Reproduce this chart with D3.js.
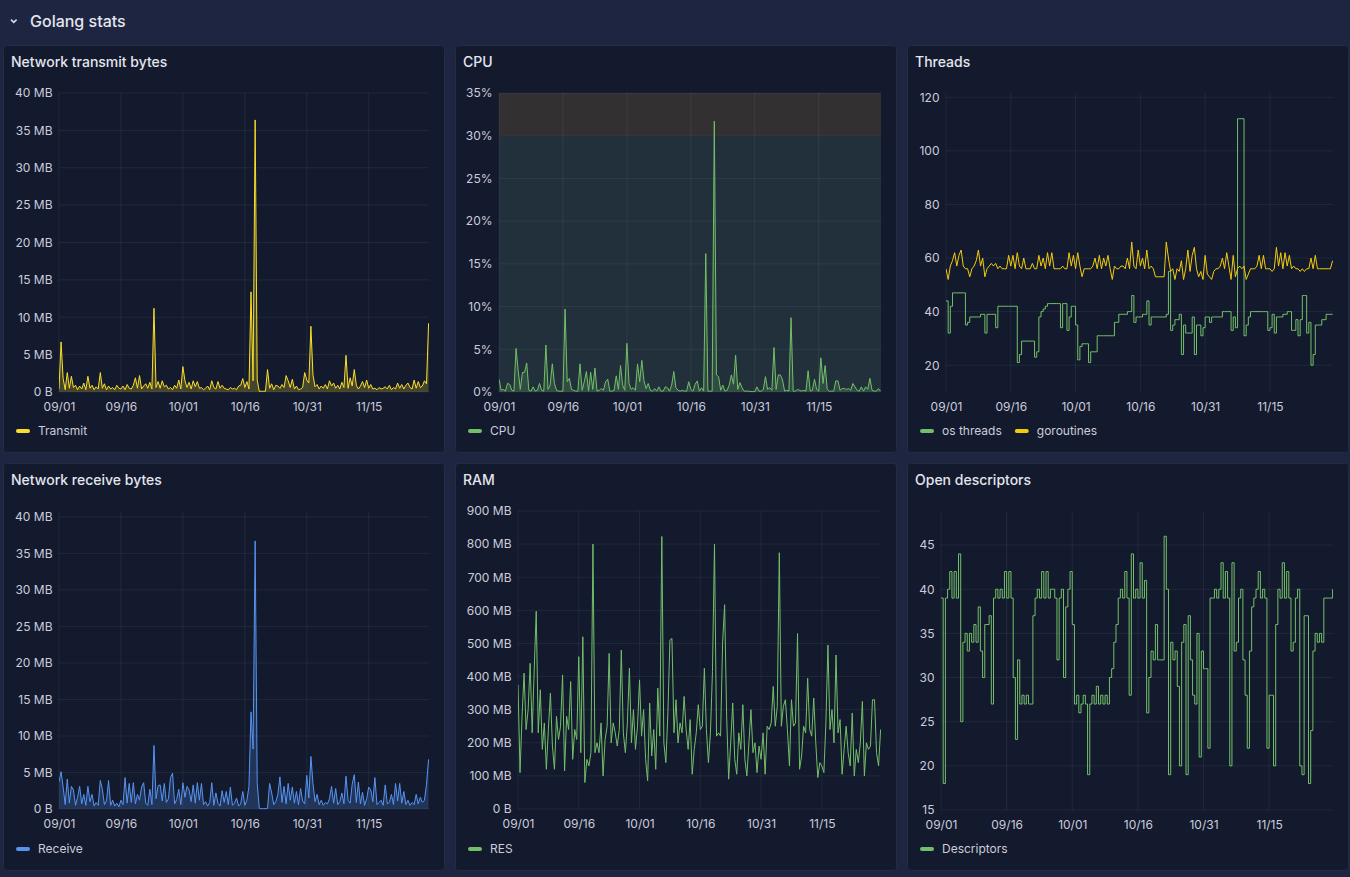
<!DOCTYPE html>
<html>
<head>
<meta charset="utf-8">
<script src="https://cdnjs.cloudflare.com/ajax/libs/d3/7.8.5/d3.min.js"></script>
<style>
  html, body { margin: 0; padding: 0; background: #1e2540; }
  body { width: 1350px; height: 877px; overflow: hidden; }
</style>
</head>
<body>
<div id="wrapper"></div>
<script>
// ---- data (one point every half day from 09/01) ----
const startDay = "2023/09/01"
const stepDays = 0.5
const spanDays = 89.6
const tickLabels = ["09/01", "09/16", "10/01", "10/16", "10/31", "11/15"]

const transmitMB = [
    0.4,6.7,1.8,0.3,2.6,0.5,2.1,0.6,0.9,0.3,
    0.8,0.4,1.2,0.3,2.1,0.5,0.9,0.3,0.7,0.4,
    2.6,0.5,1.1,0.3,0.8,0.4,0.6,0.3,0.9,0.5,
    0.4,0.8,0.3,1.0,0.5,0.4,0.9,1.9,0.5,2.2,
    0.4,0.8,1.1,0.5,1.3,0.4,11.2,0.6,1.4,0.5,
    1.5,0.7,0.9,0.4,0.6,0.3,0.9,0.5,1.6,0.4,
    3.4,1.5,0.6,1.3,0.4,1.5,0.7,1.4,0.5,0.6,
    0.3,0.5,0.8,0.3,1.5,0.6,0.4,1.4,0.5,0.9,
    0.5,0.4,0.3,0.6,0.4,0.5,0.3,0.8,0.9,1.8,
    0.6,1.4,0.4,13.4,1.5,36.4,1.6,0.1,0.1,0.1,
    0.1,3.0,0.5,1.1,0.3,0.9,0.8,0.5,1.0,0.6,
    2.2,1.5,0.6,1.7,0.4,0.8,0.3,0.4,0.6,2.6,
    1.6,1.2,8.8,2.3,0.7,1.0,0.4,0.8,0.5,1.0,
    0.4,1.5,0.8,1.2,0.5,0.9,0.4,1.3,0.6,4.9,
    0.5,1.9,0.8,3.0,0.9,0.4,0.8,1.4,0.6,1.6,
    0.5,1.0,0.4,0.5,0.3,0.6,0.4,0.5,0.7,0.4,
    0.9,0.3,0.6,0.4,1.2,0.5,1.0,0.4,0.9,1.2,
    0.6,0.4,1.6,0.5,1.4,0.6,0.8,1.5,1.1,9.2
]

const receiveMB = [
    3.7,5.1,3.0,0.6,4.1,0.8,3.1,2.6,0.5,1.6,
    3.1,0.7,2.0,0.5,3.1,1.0,2.0,0.4,0.9,0.5,
    3.9,2.7,0.6,1.1,3.9,0.5,1.2,0.4,0.8,0.3,
    1.2,0.6,4.3,0.8,3.5,0.9,3.6,0.7,2.0,1.2,
    3.0,3.6,0.8,0.5,2.7,0.6,8.7,1.4,3.2,3.3,
    1.1,3.5,0.9,1.4,4.3,4.9,0.7,1.3,2.7,0.6,
    3.6,1.6,3.1,2.6,1.0,3.3,0.8,3.6,1.2,3.5,
    0.6,1.0,0.4,0.9,3.6,0.5,2.2,0.8,0.4,2.5,
    0.9,2.4,0.6,3.0,0.5,0.8,1.5,0.4,0.7,2.4,
    0.5,1.2,3.1,13.3,8.2,36.7,3.5,0.1,0.05,0.05,
    0.05,0.1,3.5,2.2,0.6,1.0,2.0,4.4,0.9,3.1,
    0.7,3.5,1.2,3.0,0.8,2.4,0.6,2.8,1.1,0.7,
    4.6,1.5,7.2,3.5,1.0,2.0,0.6,1.2,0.5,0.9,
    0.7,1.4,3.1,0.8,2.8,0.6,1.0,2.2,0.7,4.5,
    1.2,0.8,3.4,4.7,0.9,3.7,0.7,2.3,0.5,1.4,
    3.0,2.6,1.0,4.3,0.6,0.9,1.2,0.5,3.3,0.7,
    0.9,2.0,0.6,3.5,1.1,3.5,0.8,2.4,0.6,1.2,
    0.5,0.9,0.6,2.0,0.7,1.6,0.9,1.2,3.4,6.8
]

const cpuPct = [
    1.5,0.2,0.3,0.1,1.0,0.9,0.2,0.1,5.1,2.5,
    0.3,2.3,2.3,3.4,0.2,0.1,0.6,0.1,0.2,1.0,
    0.2,0.1,5.5,0.3,0.8,3.3,1.0,0.2,0.1,0.1,
    0.1,9.7,1.2,1.6,0.3,0.2,0.1,0.1,3.3,0.2,
    1.2,2.4,0.1,2.3,0.3,2.8,0.1,0.2,0.4,0.2,
    1.2,1.5,0.1,0.1,0.2,1.9,0.3,3.1,0.8,0.2,
    5.7,1.0,0.3,0.5,0.2,3.3,1.2,3.7,1.3,0.4,
    1.0,0.2,0.1,0.4,0.1,0.6,0.1,0.1,0.6,0.5,
    0.1,0.8,2.4,0.5,0.2,0.1,0.2,0.1,0.1,1.2,
    0.3,0.1,0.9,1.3,0.1,0.5,0.1,16.2,0.1,0.1,
    0.1,31.7,2.0,1.8,0.2,0.8,0.1,0.2,0.8,2.0,
    0.9,4.3,0.3,1.1,0.5,0.1,0.1,0.1,0.05,0.05,
    0.05,0.6,0.1,0.1,0.3,1.8,0.3,0.5,0.2,5.2,
    0.3,2.0,2.0,1.4,0.1,0.2,0.1,8.7,0.1,0.1,
    0.3,0.2,0.1,0.2,0.1,2.5,0.1,0.2,1.5,0.3,
    0.1,4.0,1.0,3.1,0.3,0.1,0.1,0.1,1.3,1.3,
    0.2,0.4,0.4,0.3,0.4,0.2,1.0,0.6,0.2,0.1,
    0.6,0.1,0.6,0.3,1.6,0.2,0.1,0.1,0.4,0.1
]

const osThreads = [
    44,32,42,47,47,47,47,47,47,35,
    36,38,38,38,38,38,39,39,32,39,
    39,39,39,34,42,42,42,42,42,42,
    42,42,42,21,24,29,29,29,29,29,
    29,23,25,38,40,41,42,43,43,43,
    43,43,43,34,43,43,33,38,42,42,
    35,22,27,28,28,28,21,25,25,25,
    31,31,31,31,31,31,31,31,36,36,
    39,39,39,39,40,40,46,36,38,38,
    38,39,39,44,35,38,38,38,38,38,
    38,38,39,55,33,35,37,37,39,24,
    35,32,32,32,38,24,35,35,31,34,
    38,38,36,38,38,38,38,38,40,40,
    40,40,33,38,34,112,112,112,31,35,
    38,40,40,40,40,40,40,40,40,33,
    34,39,32,38,38,38,39,39,40,40,
    33,33,37,31,37,46,46,32,36,20,
    24,35,35,35,37,37,39,39,39,39
]

const goroutines = [
    56,52,57,59,62,57,61,63,57,56,
    56,53,56,57,59,63,57,60,53,56,
    57,58,57,58,56,57,56,56,56,61,
    57,61,56,62,57,56,60,56,56,56,
    58,56,56,61,57,60,56,62,57,62,
    56,56,56,56,57,56,56,62,57,61,
    56,62,57,53,56,56,56,56,57,60,
    56,61,56,60,57,61,56,52,57,56,
    56,57,57,56,60,56,66,57,56,63,
    57,60,56,63,56,57,56,53,53,53,
    53,53,66,60,55,56,52,56,55,59,
    52,56,63,55,61,64,56,53,55,52,
    61,54,53,52,55,56,56,57,60,56,
    62,57,52,61,53,56,57,56,57,52,
    54,56,56,56,57,61,56,61,56,56,
    56,55,56,64,57,62,56,62,57,61,
    56,57,56,56,55,56,55,56,56,60,
    56,61,56,56,56,56,56,56,56,59
]

const ramMB = [
    375,110,280,410,240,300,440,230,420,597,
    230,360,180,260,120,240,350,190,120,280,
    210,250,405,115,280,240,385,150,240,210,
    460,170,520,80,150,130,170,800,170,200,
    170,260,100,210,250,470,200,260,230,190,
    240,480,230,170,260,425,200,300,180,250,
    390,220,300,150,85,320,160,240,120,365,
    220,823,200,140,290,510,515,230,330,200,
    260,230,340,240,180,270,105,180,230,315,
    240,250,425,240,140,230,415,800,220,230,
    220,500,617,280,90,200,320,150,105,230,
    180,315,150,100,200,300,170,200,110,190,
    150,230,105,250,240,260,370,250,310,774,
    250,310,330,240,130,330,250,260,530,120,
    160,250,230,395,240,220,335,200,95,140,
    130,110,260,495,240,300,200,465,230,270,
    105,180,250,170,130,290,100,180,140,200,
    325,100,200,180,190,330,330,170,130,240
]

const descriptors = [
    39,18,39,40,42,39,42,39,44,25,
    34,35,33,35,34,36,34,38,33,30,
    36,36,37,27,39,40,39,40,39,42,
    39,42,39,30,23,32,27,28,27,28,
    27,27,37,39,40,39,42,39,42,39,
    40,40,39,32,39,40,30,38,40,42,
    36,27,28,26,27,28,27,19,27,28,
    27,29,27,28,27,28,27,30,31,34,
    36,39,40,39,42,39,28,44,39,40,
    39,43,39,41,26,30,33,32,36,32,
    32,32,46,40,19,34,32,33,29,20,
    34,36,19,37,32,28,27,35,21,33,
    31,31,22,39,39,40,39,40,43,39,
    42,39,20,43,33,34,39,40,32,28,
    22,33,38,39,40,42,39,40,39,22,
    28,28,20,36,40,39,43,39,42,39,
    33,34,39,40,20,19,37,37,18,24,
    33,35,34,35,34,39,39,39,39,40
]

// ---- drawing ----
window.addEventListener("load", paint)

function paint() {
    const parseDay = d3.utcParse("%Y/%m/%d")
    const t0 = parseDay(startDay)
    const dayMs = 864e5
    const timeDomain = [t0, new Date(+t0 + spanDays * dayMs)]
    const tickDates = tickLabels.map(l => parseDay(startDay.slice(0, 5) + l))
    const toPoints = values => values.map((v, i) => ({ t: new Date(+t0 + i * stepDays * dayMs), v }))

    const bytes = v => v === 0 ? "0 B" : v + " MB"
    const pct = v => v + "%"
    const plain = v => String(v)

    const svg = d3.select("#wrapper")
        .append("svg")
            .attr("width", 1350)
            .attr("height", 877)
            .style("font-family", "Inter, 'Noto Sans', sans-serif")

    // row header
    svg.append("path")
        .attr("d", "M11,19.6L13.8,22.4L16.6,19.6")
        .attr("fill", "none").attr("stroke", "#d8d9e3").attr("stroke-width", 1.6)
    svg.append("text")
        .attr("x", 30).attr("y", 27)
        .attr("fill", "#e4e5ee").attr("font-size", 16).attr("font-weight", 500)
        .text("Golang stats")

    const panels = [
        { title: "Network transmit bytes", box: [3, 45, 442, 408], plot: [59, 93, 429, 392],
          yDomain: [0, 40], yTicks: 8, fmt: bytes, legendY: 431,
          series: [{ name: "Transmit", values: transmitMB, color: "#fade2a", fill: 0.22 }] },
        { title: "CPU", box: [455, 45, 442, 408], plot: [499, 93, 881, 392],
          yDomain: [0, 35], yTicks: 7, fmt: pct, legendY: 431,
          bands: [{ from: 0, to: 30, color: "#21303a" }, { from: 30, to: 35, color: "#333031" }],
          series: [{ name: "CPU", values: cpuPct, color: "#73bf69", fill: 0.2 }] },
        { title: "Threads", box: [907, 45, 442, 408], plot: [946, 93, 1333, 392],
          yDomain: [10, 121.6], yTicks: 6, fmt: plain, legendY: 431,
          series: [
              { name: "os threads", values: osThreads, color: "#73bf69", step: true },
              { name: "goroutines", values: goroutines, color: "#f2cc0c" }
          ] },
        { title: "Network receive bytes", box: [3, 463, 442, 408], plot: [59, 511, 429, 809],
          yDomain: [0, 40.8], yTicks: 8, fmt: bytes, legendY: 849,
          series: [{ name: "Receive", values: receiveMB, color: "#5794f2", fill: 0.22 }] },
        { title: "RAM", box: [455, 463, 442, 408], plot: [518, 511, 881, 809],
          yDomain: [0, 900], yTicks: 9, fmt: bytes, legendY: 849,
          series: [{ name: "RES", values: ramMB, color: "#73bf69" }] },
        { title: "Open descriptors", box: [907, 463, 442, 408], plot: [941, 511, 1333, 810],
          yDomain: [15, 48.86], yTicks: 7, fmt: plain, legendY: 849,
          series: [{ name: "Descriptors", values: descriptors, color: "#73bf69", step: true }] }
    ]

    panels.forEach((p, idx) => drawPanel(svg, p, idx, timeDomain, tickDates, toPoints))
}

function drawPanel(svg, p, idx, timeDomain, tickDates, toPoints) {
    const [bx, by, bw, bh] = p.box
    const [pl, pt, pr, pb] = p.plot
    const g = svg.append("g")

    g.append("rect")
        .attr("x", bx + 0.5).attr("y", by + 0.5)
        .attr("width", bw - 1).attr("height", bh - 1)
        .attr("rx", 3)
        .attr("fill", "#131a2d").attr("stroke", "#232b45")

    g.append("text")
        .attr("x", bx + 8).attr("y", by + 22)
        .attr("fill", "#e4e5ee").attr("font-size", 14).attr("font-weight", 500)
        .text(p.title)

    const x = d3.scaleUtc().domain(timeDomain).range([pl, pr])
    const y = d3.scaleLinear().domain(p.yDomain).range([pb, pt])

    // threshold regions
    if (p.bands) {
        g.selectAll(".band").data(p.bands).join("rect")
            .attr("x", pl).attr("width", pr - pl)
            .attr("y", d => y(d.to)).attr("height", d => y(d.from) - y(d.to))
            .attr("fill", d => d.color)
    }

    // grid
    const gridColor = "rgba(204,204,220,0.08)"
    g.selectAll(".vgrid").data(tickDates).join("line")
        .attr("x1", d => x(d)).attr("x2", d => x(d))
        .attr("y1", pt).attr("y2", pb)
        .attr("stroke", gridColor)
    g.selectAll(".hgrid").data(y.ticks(p.yTicks)).join("line")
        .attr("x1", pl).attr("x2", pr)
        .attr("y1", d => y(d)).attr("y2", d => y(d))
        .attr("stroke", gridColor)

    // axes
    const xAxis = g.append("g")
        .attr("transform", `translate(0,${pb})`)
        .call(d3.axisBottom(x).tickValues(tickDates).tickFormat(d3.utcFormat("%m/%d")).tickSize(0).tickPadding(10))
    const yAxis = g.append("g")
        .attr("transform", `translate(${pl},0)`)
        .call(d3.axisLeft(y).ticks(p.yTicks).tickFormat(p.fmt).tickSize(0).tickPadding(6.5))
    ;[xAxis, yAxis].forEach(a => {
        a.select(".domain").remove()
        a.attr("font-family", null).attr("font-size", 12)
        a.selectAll("text").attr("fill", "#ccccdc")
    })

    // series
    const clipId = "clip" + idx
    g.append("clipPath").attr("id", clipId)
        .append("rect").attr("x", pl).attr("y", pt - 1).attr("width", pr - pl).attr("height", pb - pt + 2)
    const plotG = g.append("g").attr("clip-path", `url(#${clipId})`)

    p.series.forEach(s => {
        const pts = toPoints(s.values)
        const curve = s.step ? d3.curveStepAfter : d3.curveLinear
        if (s.fill) {
            plotG.append("path")
                .datum(pts)
                .attr("fill", s.color).attr("fill-opacity", s.fill)
                .attr("d", d3.area().curve(curve).x(d => x(d.t)).y0(y(p.yDomain[0])).y1(d => y(d.v)))
        }
        plotG.append("path")
            .datum(pts)
            .attr("fill", "none").attr("stroke", s.color).attr("stroke-width", 1)
            .attr("stroke-linejoin", "round")
            .attr("d", d3.line().curve(curve).x(d => x(d.t)).y(d => y(d.v)))
    })

    // legend
    let lx = bx + 13
    p.series.forEach(s => {
        g.append("rect")
            .attr("x", lx).attr("y", p.legendY - 2)
            .attr("width", 14).attr("height", 4).attr("rx", 2)
            .attr("fill", s.color)
        const label = g.append("text")
            .attr("x", lx + 22).attr("y", p.legendY + 4.3)
            .attr("fill", "#ccccdc").attr("font-size", 12)
            .text(s.name)
        lx += 22 + label.node().getComputedTextLength() + 13
    })
}
</script>
</body>
</html>
